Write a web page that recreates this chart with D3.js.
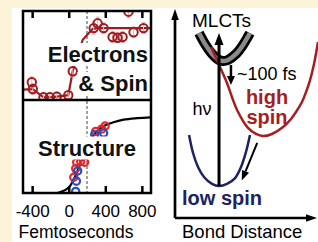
<!DOCTYPE html>
<html>
<head>
<meta charset="utf-8">
<script src="https://cdn.jsdelivr.net/npm/d3@7"></script>
<style>
  html, body { margin: 0; padding: 0; background: #fcf3d9; }
  svg { display: block; font-family: "Liberation Sans", Arial, sans-serif; }
</style>
</head>
<body>
<svg id="chart" width="318" height="242"></svg>
<script>
// ---- left panels: time axis (fs) ----
const timeTicks = [-400, 0, 400, 800];
const timeMarker = 200;

// electrons & spin (normalised signal)
const esTime   = [-404, -393, -276, -207, -131, -5, 44, 273, 316, 382, 480, 534, 589, 654, 709, 818];
const esSignal = [0.21, 0.11, -0.01, -0.01, 0.00, 0.02, 0.37, 1.00, 1.07, 1.00, 0.87, 0.86, 0.87, 1.24, 0.94, 1.00];
const esError  = [0.08, 0.08, 0.07, 0.07, 0.07, 0.06, 0.08, 0.09, 0.09, 0.08, 0.08, 0.08, 0.08, 0.09, 0.08, 0.08];
const esTraceTime   = [-505, -393, -276, -207, -131, -5, 44, 153, 262, 382, 818, 905];
const esTraceSignal = [0.10, 0.11, -0.01, -0.01, 0.00, 0.02, 0.37, 0.83, 0.99, 1.00, 1.00, 1.00];

// structure
const stRedTime    = [55, 76, 87, 131, 174, 294, 360, 398];
const stRedSignal  = [0.24, 0.35, 0.43, 0.44, 0.43, 0.82, 0.85, 0.89];
const stBlueTime   = [76, 84, 98, 284, 382];
const stBlueSignal = [0.06, 0.19, 0.32, 0.78, 0.80];
const stFitTime   = [-500, -300, -200, -100, 0, 50, 100, 150, 200, 250, 300, 400, 500, 600, 750, 900];
const stFitSignal = [0, 0, 0.02, 0.05, 0.11, 0.20, 0.33, 0.48, 0.62, 0.73, 0.81, 0.90, 0.94, 0.97, 0.99, 1.00];

// ---- right panel: potential curves (bond distance, energy; arbitrary 0-10) ----
const mlctR = [1.69, 2.11, 2.61, 3.10, 3.38, 3.73, 4.30, 4.79, 5.28];
const mlctE = [8.85, 8.33, 7.85, 7.56, 7.51, 7.56, 7.85, 8.28, 8.85];
const highR = [2.54, 3.17, 3.66, 4.01, 4.37, 5.14, 5.70, 6.20, 6.83, 7.61, 8.17, 8.52, 8.94, 9.23, 9.51, 9.79, 10.07];
const highE = [8.18, 7.22, 6.46, 5.79, 5.17, 4.31, 4.02, 3.92, 4.02, 4.35, 4.74, 5.07, 5.55, 6.03, 6.60, 7.37, 8.42];
const lowR  = [0.99, 1.27, 1.62, 2.04, 2.61, 3.10, 3.66, 4.23, 4.65, 5.00, 5.28];
const lowE  = [3.97, 3.11, 2.44, 1.96, 1.63, 1.53, 1.63, 1.91, 2.44, 3.16, 3.97];
const arrows = [
  { name: "energy",  from: [0, 0],       to: [0, 10],      w: 2.7, head: 11, hw: 3.8 },
  { name: "bond",    from: [0, 0],       to: [10, 0],      w: 2.7, head: 11, hw: 3.8 },
  { name: "hv",      from: [3.10, 1.53], to: [3.10, 8.85], w: 3,   head: 12, hw: 4.5 },
  { name: "fs100",   from: [3.94, 7.32], to: [3.94, 6.36], w: 2.5, head: 9,  hw: 4 },
  { name: "relax",   from: [5.79, 3.59], to: [4.70, 1.79], w: 2,   head: 10, hw: 3.8 }
];

const svg = d3.select("#chart");
svg.append("rect").attr("width", 318).attr("height", 242).attr("fill", "#fcf3d9");
svg.append("rect").attr("x", 12).attr("y", 8).attr("width", 306).attr("height", 234).attr("fill", "#fff");

const x = d3.scaleLinear().domain([-500, 900]).range([23, 151]);
const yTop = d3.scaleLinear().domain([-0.05, 1.25]).range([100, 11]);
const yBot = d3.scaleLinear().domain([0.04, 1.22]).range([193, 100]);

const defs = svg.append("defs");
defs.append("clipPath").attr("id", "clipTop").append("rect")
  .attr("x", 23).attr("y", 11).attr("width", 128).attr("height", 89);
defs.append("clipPath").attr("id", "clipBot").append("rect")
  .attr("x", 23).attr("y", 100).attr("width", 128).attr("height", 93);

// dashed time marker
svg.append("line")
  .attr("x1", x(timeMarker)).attr("x2", x(timeMarker))
  .attr("y1", 11).attr("y2", 193)
  .attr("stroke", "#444").attr("stroke-width", 1).attr("stroke-dasharray", "3,2");

// structure fit
const gBot = svg.append("g").attr("clip-path", "url(#clipBot)");
gBot.append("path")
  .attr("d", d3.line().curve(d3.curveMonotoneX)
    .x((d, i) => x(stFitTime[i])).y(d => yBot(d))(stFitSignal))
  .attr("fill", "none").attr("stroke", "#000").attr("stroke-width", 2.2);

// electrons trace
const gTop = svg.append("g").attr("clip-path", "url(#clipTop)");
gTop.append("path")
  .attr("d", d3.line().x((d, i) => x(esTraceTime[i])).y(d => yTop(d))(esTraceSignal))
  .attr("fill", "none").attr("stroke", "#9c1c1f").attr("stroke-width", 2.2);

// label backgrounds + labels
function label(g, txt, px, py, size, anchor, bg) {
  const t = g.append("text").attr("x", px).attr("y", py)
    .attr("font-size", size).attr("font-weight", "bold")
    .attr("text-anchor", anchor).attr("fill", "#111").text(txt);
  if (bg) {
    const b = t.node().getBBox();
    g.insert("rect", "text").attr("x", b.x - 1).attr("y", b.y + 1)
      .attr("width", b.width + 2).attr("height", b.height - 2).attr("fill", "#fff");
  }
}
const gLab = svg.append("g");
label(gLab, "Electrons", 148, 62, 22, "end", true);
label(gLab, "& Spin", 148, 91, 22, "end", true);
label(gLab, "Structure", 87, 155.5, 22, "middle", true);

// error bars
const eb = gTop.append("g").attr("stroke", "#f0b4b4").attr("stroke-width", 1);
esTime.forEach((t, i) => {
  const cx = x(t), y1 = yTop(esSignal[i] - esError[i]), y2 = yTop(esSignal[i] + esError[i]);
  eb.append("line").attr("x1", cx).attr("x2", cx).attr("y1", y1).attr("y2", y2);
  eb.append("line").attr("x1", cx - 2).attr("x2", cx + 2).attr("y1", y1).attr("y2", y1);
  eb.append("line").attr("x1", cx - 2).attr("x2", cx + 2).attr("y1", y2).attr("y2", y2);
});

// circles
gTop.selectAll("circle.es").data(esSignal).join("circle")
  .attr("cx", (d, i) => x(esTime[i])).attr("cy", d => yTop(d)).attr("r", 4.2)
  .attr("fill", "none").attr("stroke", "#9c1c1f").attr("stroke-width", 2);
gBot.selectAll("circle.red").data(stRedSignal).join("circle").attr("class", "red")
  .attr("cx", (d, i) => x(stRedTime[i])).attr("cy", d => yBot(d)).attr("r", 3.6)
  .attr("fill", "none").attr("stroke", "#e3262b").attr("stroke-width", 2.2);
gBot.selectAll("circle.blue").data(stBlueSignal).join("circle").attr("class", "blue")
  .attr("cx", (d, i) => x(stBlueTime[i])).attr("cy", d => yBot(d)).attr("r", 3.6)
  .attr("fill", "none").attr("stroke", "#2b4fb8").attr("stroke-width", 2.2);

// frame
svg.append("rect").attr("x", 23).attr("y", 11).attr("width", 128).attr("height", 182)
  .attr("fill", "none").attr("stroke", "#000").attr("stroke-width", 2.5);
svg.append("line").attr("x1", 23).attr("x2", 151).attr("y1", 100).attr("y2", 100)
  .attr("stroke", "#000").attr("stroke-width", 2.5);

// axes
const axTop = svg.append("g").attr("transform", "translate(0,11)")
  .call(d3.axisTop(x).tickValues(timeTicks).tickSizeInner(-7).tickSizeOuter(0).tickFormat(""));
const axBot = svg.append("g").attr("transform", "translate(0,193)")
  .call(d3.axisBottom(x).tickValues(timeTicks).tickSizeInner(-7).tickSizeOuter(0)
    .tickPadding(12).tickFormat(d => String(d)));
[axTop, axBot].forEach(a => {
  a.select(".domain").remove();
  a.selectAll(".tick line").attr("stroke", "#000").attr("stroke-width", 2.5);
  a.selectAll("text").attr("font-size", 17).attr("font-family", "Liberation Sans, Arial, sans-serif").attr("fill", "#000");
});
svg.append("text").attr("x", 76).attr("y", 238).attr("text-anchor", "middle")
  .attr("font-size", 17.5).text("Femtoseconds");

// ---- right panel ----
const bx = d3.scaleLinear().domain([0, 10]).range([175, 317]);
const by = d3.scaleLinear().domain([0, 10]).range([218, 9]);
const curve = (R, E) => d3.line().curve(d3.curveCatmullRom)
  .x((d, i) => bx(R[i])).y(d => by(d))(E);

svg.append("path").attr("d", curve(mlctR, mlctE))
  .attr("fill", "none").attr("stroke", "#000").attr("stroke-width", 10);
svg.append("path").attr("d", curve(mlctR, mlctE))
  .attr("fill", "none").attr("stroke", "#8a8a8a").attr("stroke-width", 4.5);
svg.append("path").attr("d", curve(highR, highE))
  .attr("fill", "none").attr("stroke", "#a51e22").attr("stroke-width", 2.5);
svg.append("path").attr("d", curve(lowR, lowE))
  .attr("fill", "none").attr("stroke", "#1c2360").attr("stroke-width", 2.5);

arrows.forEach(a => {
  const x1 = bx(a.from[0]), y1 = by(a.from[1]), x2 = bx(a.to[0]), y2 = by(a.to[1]);
  const ang = Math.atan2(y2 - y1, x2 - x1);
  const hx = x2 - a.head * Math.cos(ang), hy = y2 - a.head * Math.sin(ang);
  const nx = -Math.sin(ang) * a.hw, ny = Math.cos(ang) * a.hw;
  svg.append("line").attr("x1", x1).attr("y1", y1).attr("x2", hx).attr("y2", hy)
    .attr("stroke", "#000").attr("stroke-width", a.w);
  svg.append("path").attr("d", `M${x2},${y2}L${hx + nx},${hy + ny}L${hx - nx},${hy - ny}Z`)
    .attr("fill", "#000");
});

svg.append("text").attr("x", 192).attr("y", 27).attr("font-size", 19).text("MLCTs");
svg.append("text").attr("x", 237).attr("y", 80).attr("font-size", 18).text("~100 fs");
svg.append("text").attr("x", 202).attr("y", 115).attr("text-anchor", "middle").attr("font-size", 18).text("hν");
svg.append("text").attr("x", 267).attr("y", 104).attr("text-anchor", "middle")
  .attr("font-size", 20).attr("font-weight", "bold").attr("fill", "#a51e22").text("high");
svg.append("text").attr("x", 267).attr("y", 124).attr("text-anchor", "middle")
  .attr("font-size", 20).attr("font-weight", "bold").attr("fill", "#a51e22").text("spin");
svg.append("text").attr("x", 182).attr("y", 205)
  .attr("font-size", 20).attr("font-weight", "bold").attr("fill", "#1c2360").text("low spin");
svg.append("text").attr("x", 182).attr("y", 238).attr("font-size", 18.5).text("Bond Distance");
</script>
</body>
</html>
